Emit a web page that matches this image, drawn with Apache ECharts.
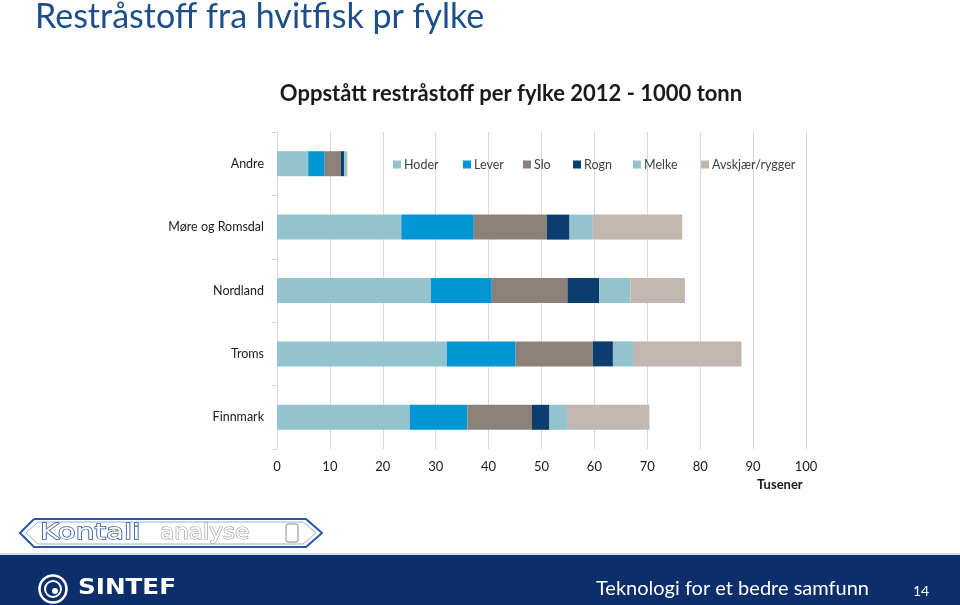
<!DOCTYPE html>
<html>
<head>
<meta charset="utf-8">
<script src="https://cdn.jsdelivr.net/npm/echarts@6/dist/echarts.min.js"></script>
<style>
html,body{margin:0;padding:0;background:#fff;}
#c{width:960px;height:605px;}
</style>
</head>
<body>
<div id="c"></div>
<script>
var categories = ['Andre', 'Møre og Romsdal', 'Nordland', 'Troms', 'Finnmark'];
var seriesNames = ['Hoder', 'Lever', 'Slo', 'Rogn', 'Melke', 'Avskjær/rygger'];
var hoder = [5.9, 23.5, 29.1, 32.1, 25.1];
var lever = [3.1, 13.7, 11.5, 13.0, 10.9];
var slo = [3.1, 13.8, 14.3, 14.6, 12.2];
var rogn = [0.6, 4.3, 6.0, 3.8, 3.3];
var melke = [0.5, 4.4, 5.9, 3.8, 3.3];
var avskjaer = [0.1, 16.9, 10.3, 20.5, 15.6];
var xTicks = [0, 10, 20, 30, 40, 50, 60, 70, 80, 90, 100];

var colors = ['#92c3cf', '#0096d4', '#8b8179', '#0b3d6f', '#92c3cf', '#c1b6b0'];
var values = [hoder, lever, slo, rogn, melke, avskjaer];
var legendLeft = [388, 458, 518, 568, 628, 696];
var FONT = 'Lato, "Open Sans", sans-serif';

var chart = echarts.init(document.getElementById('c'), null, {renderer: 'canvas'});
var series = seriesNames.map(function (n, i) {
  return {
    name: n, type: 'bar', stack: 'total', data: values[i],
    barWidth: 25, itemStyle: {color: colors[i]}, silent: true
  };
});
var legends = seriesNames.map(function (n, i) {
  return {
    data: [n], left: legendLeft[i], top: 153,
    itemWidth: 8, itemHeight: 8, icon: 'rect',
    textStyle: {fontFamily: FONT, fontSize: 12.5, color: '#404040', padding: [0, 0, 0, -2]}
  };
});

chart.setOption({
  animation: false,
  backgroundColor: '#ffffff',
  textStyle: {fontFamily: FONT},
  title: {
    text: 'Oppstått restråstoff per fylke 2012 - 1000 tonn',
    left: 506, top: 78, textAlign: 'center',
    textStyle: {fontFamily: FONT, fontSize: 22, fontWeight: 'bold', color: '#1a1a1a'}
  },
  legend: legends,
  grid: {left: 277, right: 154, top: 132, height: 317, containLabel: false},
  xAxis: {
    type: 'value', min: 0, max: 100, interval: 10,
    axisLine: {show: false},
    axisTick: {show: false},
    splitLine: {show: true, lineStyle: {color: '#d9d9d9', width: 1}},
    axisLabel: {fontFamily: FONT, fontSize: 13, color: '#1a1a1a', margin: 11,
      formatter: function (v) { return xTicks.indexOf(v) >= 0 ? String(v) : ''; }}
  },
  yAxis: {
    type: 'category', data: categories, inverse: true,
    axisLine: {show: true, lineStyle: {color: '#d9d9d9'}},
    axisTick: {show: true, length: 5, lineStyle: {color: '#d9d9d9'}},
    axisLabel: {fontFamily: FONT, fontSize: 12.5, color: '#1a1a1a', margin: 13}
  },
  series: series,
  graphic: [
    {type: 'text', left: 35, top: 0, style: {text: 'Restråstoff fra hvitfisk pr fylke', fontFamily: FONT, fontSize: 34, fill: '#1c4f8a'}},
    {type: 'text', left: 757, top: 478, style: {text: 'Tusener', fontFamily: FONT, fontSize: 13, fontWeight: 'bold', fill: '#1a1a1a'}},
    // Kontali logo
    {type: 'polyline', shape: {points: [[34, 519], [306, 519], [322, 533], [306, 547], [34, 547], [20, 533], [34, 519]]},
      style: {stroke: '#2a55a8', lineWidth: 2, fill: 'none'}},
    {type: 'polyline', shape: {points: [[38, 522], [303, 522], [316, 533], [303, 544], [38, 544], [26, 533], [38, 522]]},
      style: {stroke: '#9bb0d6', lineWidth: 1, fill: 'none'}},
    {type: 'text', x: 40, y: 523, scaleX: 1.4, style: {text: 'Kontali', fontFamily: '"DejaVu Sans", sans-serif', fontSize: 21, fill: '#ffffff', stroke: '#2a55a8', lineWidth: 1.3}},
    {type: 'text', x: 160, y: 523, scaleX: 1.1, style: {text: 'analyse', fontFamily: '"DejaVu Sans", sans-serif', fontSize: 21, fill: '#ffffff', stroke: '#9a9a9a', lineWidth: 1.2}},
    {type: 'rect', shape: {x: 286, y: 524, width: 12, height: 18, r: 2}, style: {fill: '#ffffff', stroke: '#8a8a8a', lineWidth: 1}},
    // footer
    {type: 'rect', shape: {x: 0, y: 553, width: 960, height: 2}, style: {fill: '#d7dde8'}},
    {type: 'rect', shape: {x: 0, y: 555, width: 960, height: 50}, style: {fill: '#0c2f6b'}},
    {type: 'circle', shape: {cx: 53, cy: 589, r: 13.5}, style: {fill: 'none', stroke: '#ffffff', lineWidth: 2.5}},
    {type: 'circle', shape: {cx: 53, cy: 589, r: 8}, style: {fill: 'none', stroke: '#ffffff', lineWidth: 2}},
    {type: 'circle', shape: {cx: 55, cy: 591, r: 3}, style: {fill: '#ffffff'}},
    {type: 'text', x: 78, y: 577, scaleX: 1.12, style: {text: 'SINTEF', fontFamily: '"DejaVu Sans", sans-serif', fontSize: 22, fontWeight: 'bold', fill: '#ffffff'}},
    {type: 'text', left: 596, top: 579, style: {text: 'Teknologi for et bedre samfunn', fontFamily: FONT, fontSize: 20, fill: '#ffffff'}},
    {type: 'text', left: 913, top: 584, style: {text: '14', fontFamily: FONT, fontSize: 14, fill: '#ffffff'}}
  ]
});
</script>
</body>
</html>
